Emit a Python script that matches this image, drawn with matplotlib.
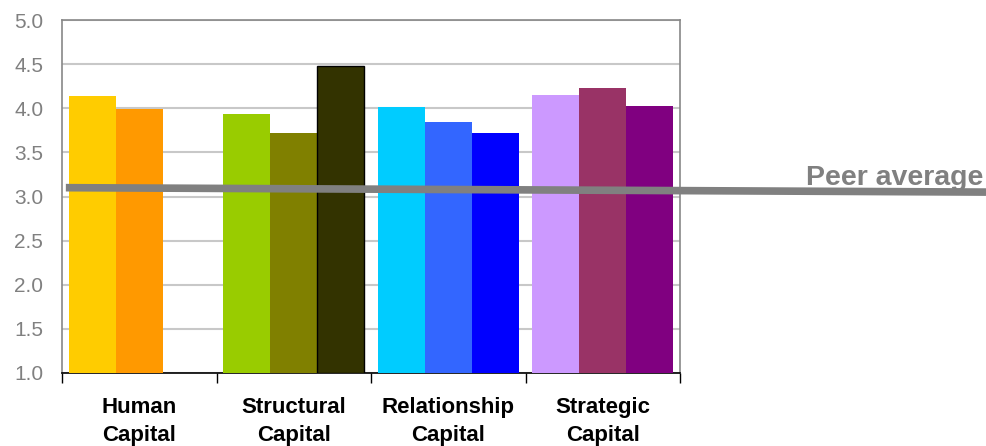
import matplotlib
matplotlib.use("Agg")
import matplotlib.pyplot as plt
import numpy as np
from matplotlib import font_manager

categories = ["Human\nCapital", "Structural\nCapital", "Relationship\nCapital", "Strategic\nCapital"]
series_values = [
    [4.14, 3.99],
    [3.93, 3.72, 4.48],
    [4.01, 3.84, 3.72],
    [4.15, 4.23, 4.03],
]
series_colors = [
    ["#FFCC00", "#FF9900"],
    ["#99CC00", "#808000", "#333300"],
    ["#00CCFF", "#3366FF", "#0000FF"],
    ["#CC99FF", "#993366", "#800080"],
]
peer_avg = [3.10, 3.05]
peer_label = "Peer average"
yticks = [1.0, 1.5, 2.0, 2.5, 3.0, 3.5, 4.0, 4.5, 5.0]

names = {f.name for f in font_manager.fontManager.ttflist}
base = "Liberation Sans" if "Liberation Sans" in names else "DejaVu Sans"
plt.rcParams['font.family'] = [base, 'DejaVu Sans']

fig = plt.figure(figsize=(9.86, 4.46), dpi=100)
ax = fig.add_axes([62/986, 73/446, 618/986, 353/446])

bw = 0.305
margin = 0.0425
for gi, (vals, cols) in enumerate(zip(series_values, series_colors)):
    for bi, (v, c) in enumerate(zip(vals, cols)):
        x0 = gi + margin + bi * bw
        ec = "black" if c == "#333300" else "none"
        ax.bar(x0, v - 1.0, bottom=1.0, width=bw, align="edge", color=c,
               edgecolor=ec, linewidth=1.0 if ec != "none" else 0, zorder=3)

ax.set_xlim(0, 4)
ax.set_ylim(1.0, 5.0)
ax.set_yticks(yticks)
ax.set_yticklabels([f"{t:.1f}" for t in yticks], color="#808080", fontsize=15)
ax.tick_params(axis="y", length=0, pad=13.5)
ax.yaxis.grid(True, color="#c8c8c8", linewidth=1.5, zorder=0)
ax.set_axisbelow(True)

ax.set_xticks([0, 1, 2, 3, 4])
ax.set_xticklabels([])
ax.tick_params(axis="x", direction="out", length=7, width=1, color="black")
for i, lab in enumerate(categories):
    ax.text(i + 0.5, -0.068, lab, transform=ax.get_xaxis_transform(),
            ha="center", va="top", fontsize=16, fontweight="bold",
            linespacing=1.45, color="black")

for s in ["top", "right", "left"]:
    ax.spines[s].set_color("#888888")
    ax.spines[s].set_linewidth(1.2)
ax.spines["bottom"].set_color("black")
ax.spines["bottom"].set_linewidth(1.2)

# peer average line extending to the right edge of the figure
x_end = (986 - 62) / 618 * 4
ax.plot([0.025, x_end], peer_avg, color="#808080", linewidth=5.5,
        solid_capstyle="butt", clip_on=False, zorder=5)
ax.text(x_end - 0.02, 3.13, peer_label, ha="right", va="baseline",
        fontsize=20.5, fontweight="bold", color="#808080", clip_on=False)

fig.savefig("out.png", dpi=100)
